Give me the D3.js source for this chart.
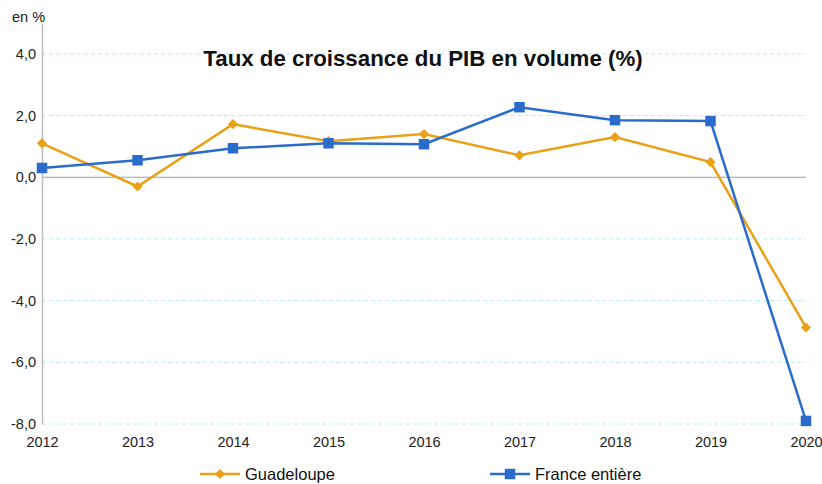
<!DOCTYPE html>
<html>
<head>
<meta charset="utf-8">
<script src="https://cdn.jsdelivr.net/npm/d3@7"></script>
<style>
  body { margin: 0; background: #fff; }
  text { font-family: "Liberation Sans", Arial, sans-serif; }
</style>
</head>
<body>
<script>
// chart data
const years = [2012, 2013, 2014, 2015, 2016, 2017, 2018, 2019, 2020];
const guadeloupe = [1.1, -0.3, 1.72, 1.17, 1.4, 0.71, 1.3, 0.49, -4.87];
const france = [0.3, 0.55, 0.94, 1.1, 1.07, 2.27, 1.85, 1.82, -7.9];
const yTicks = [-8, -6, -4, -2, 0, 2, 4];
const seriesNames = ["Guadeloupe", "France entière"];

const W = 822, H = 484;
const M = { left: 42, right: 16, top: 23, bottom: 60 };
const ORANGE = "#e9a117", BLUE = "#2b6bcb";

const svg = d3.select("body").append("svg")
    .attr("width", W)
    .attr("height", H);

const x = d3.scalePoint(years, [M.left, W - M.right]);
const y = d3.scaleLinear([-8, 5], [H - M.bottom, M.top]);

// gridlines
svg.append("g")
    .selectAll("line")
    .data(yTicks.filter(d => d !== 0))
    .join("line")
    .attr("x1", M.left).attr("x2", W - M.right)
    .attr("y1", d => y(d)).attr("y2", d => y(d))
    .attr("stroke", "#b4eef7")
    .attr("stroke-dasharray", "4,3");

// zero line
svg.append("line")
    .attr("x1", M.left).attr("x2", W - M.right)
    .attr("y1", y(0)).attr("y2", y(0))
    .attr("stroke", "#a0a0a0")
    .attr("stroke-width", 1.2);

// y axis
const yAxis = d3.axisLeft(y)
    .tickValues(yTicks)
    .tickSize(0)
    .tickPadding(6)
    .tickFormat(d => d3.format(".1f")(d).replace(".", ",").replace("−", "-"));

svg.append("g")
    .attr("transform", `translate(${M.left},0)`)
    .call(yAxis)
    .call(g => g.select(".domain").attr("stroke", "#bdbdbd").attr("stroke-width", 1.5))
    .call(g => g.selectAll("text").attr("font-size", 14.5).attr("fill", "#222"));

// x axis labels
svg.append("g")
    .attr("transform", `translate(0,${H - M.bottom})`)
    .call(d3.axisBottom(x).tickSize(0).tickPadding(13))
    .call(g => g.select(".domain").remove())
    .call(g => g.selectAll("text").attr("font-size", 14.5).attr("fill", "#222"));

svg.append("text")
    .attr("x", 12).attr("y", 22)
    .attr("font-size", 14.5)
    .attr("fill", "#222")
    .text("en %");

svg.append("text")
    .attr("x", 423).attr("y", 66)
    .attr("text-anchor", "middle")
    .attr("font-size", 22.3)
    .attr("font-weight", "bold")
    .attr("fill", "#111")
    .text("Taux de croissance du PIB en volume (%)");

const line = d3.line().x((d, i) => x(years[i])).y(d => y(d));

const diamondPath = d3.symbol(d3.symbolSquare, 52)();
const square = d3.symbol(d3.symbolSquare, 110);

// Guadeloupe
svg.append("path")
    .datum(guadeloupe)
    .attr("d", line)
    .attr("fill", "none")
    .attr("stroke", ORANGE)
    .attr("stroke-width", 2.5);
svg.append("g")
    .selectAll("path")
    .data(guadeloupe)
    .join("path")
    .attr("d", diamondPath)
    .attr("transform", (d, i) => `translate(${x(years[i])},${y(d)}) rotate(45)`)
    .attr("fill", ORANGE);

// France
svg.append("path")
    .datum(france)
    .attr("d", line)
    .attr("fill", "none")
    .attr("stroke", BLUE)
    .attr("stroke-width", 2.5);
svg.append("g")
    .selectAll("path")
    .data(france)
    .join("path")
    .attr("d", square)
    .attr("transform", (d, i) => `translate(${x(years[i])},${y(d)})`)
    .attr("fill", BLUE);

// legend
const legend = svg.append("g")
    .selectAll("g")
    .data(seriesNames)
    .join("g")
    .attr("transform", (d, i) => `translate(${[200, 490][i]},474)`);
legend.append("line")
    .attr("x1", 0).attr("x2", 40)
    .attr("stroke", (d, i) => [ORANGE, BLUE][i])
    .attr("stroke-width", 2.5);
legend.append("path")
    .attr("d", (d, i) => (i === 0 ? diamondPath : square()))
    .attr("transform", (d, i) => `translate(20,0)${i === 0 ? " rotate(45)" : ""}`)
    .attr("fill", (d, i) => [ORANGE, BLUE][i]);
legend.append("text")
    .attr("x", 45).attr("dy", "0.35em")
    .attr("font-size", 16.5)
    .attr("fill", "#111")
    .text(d => d);
</script>
</body>
</html>
